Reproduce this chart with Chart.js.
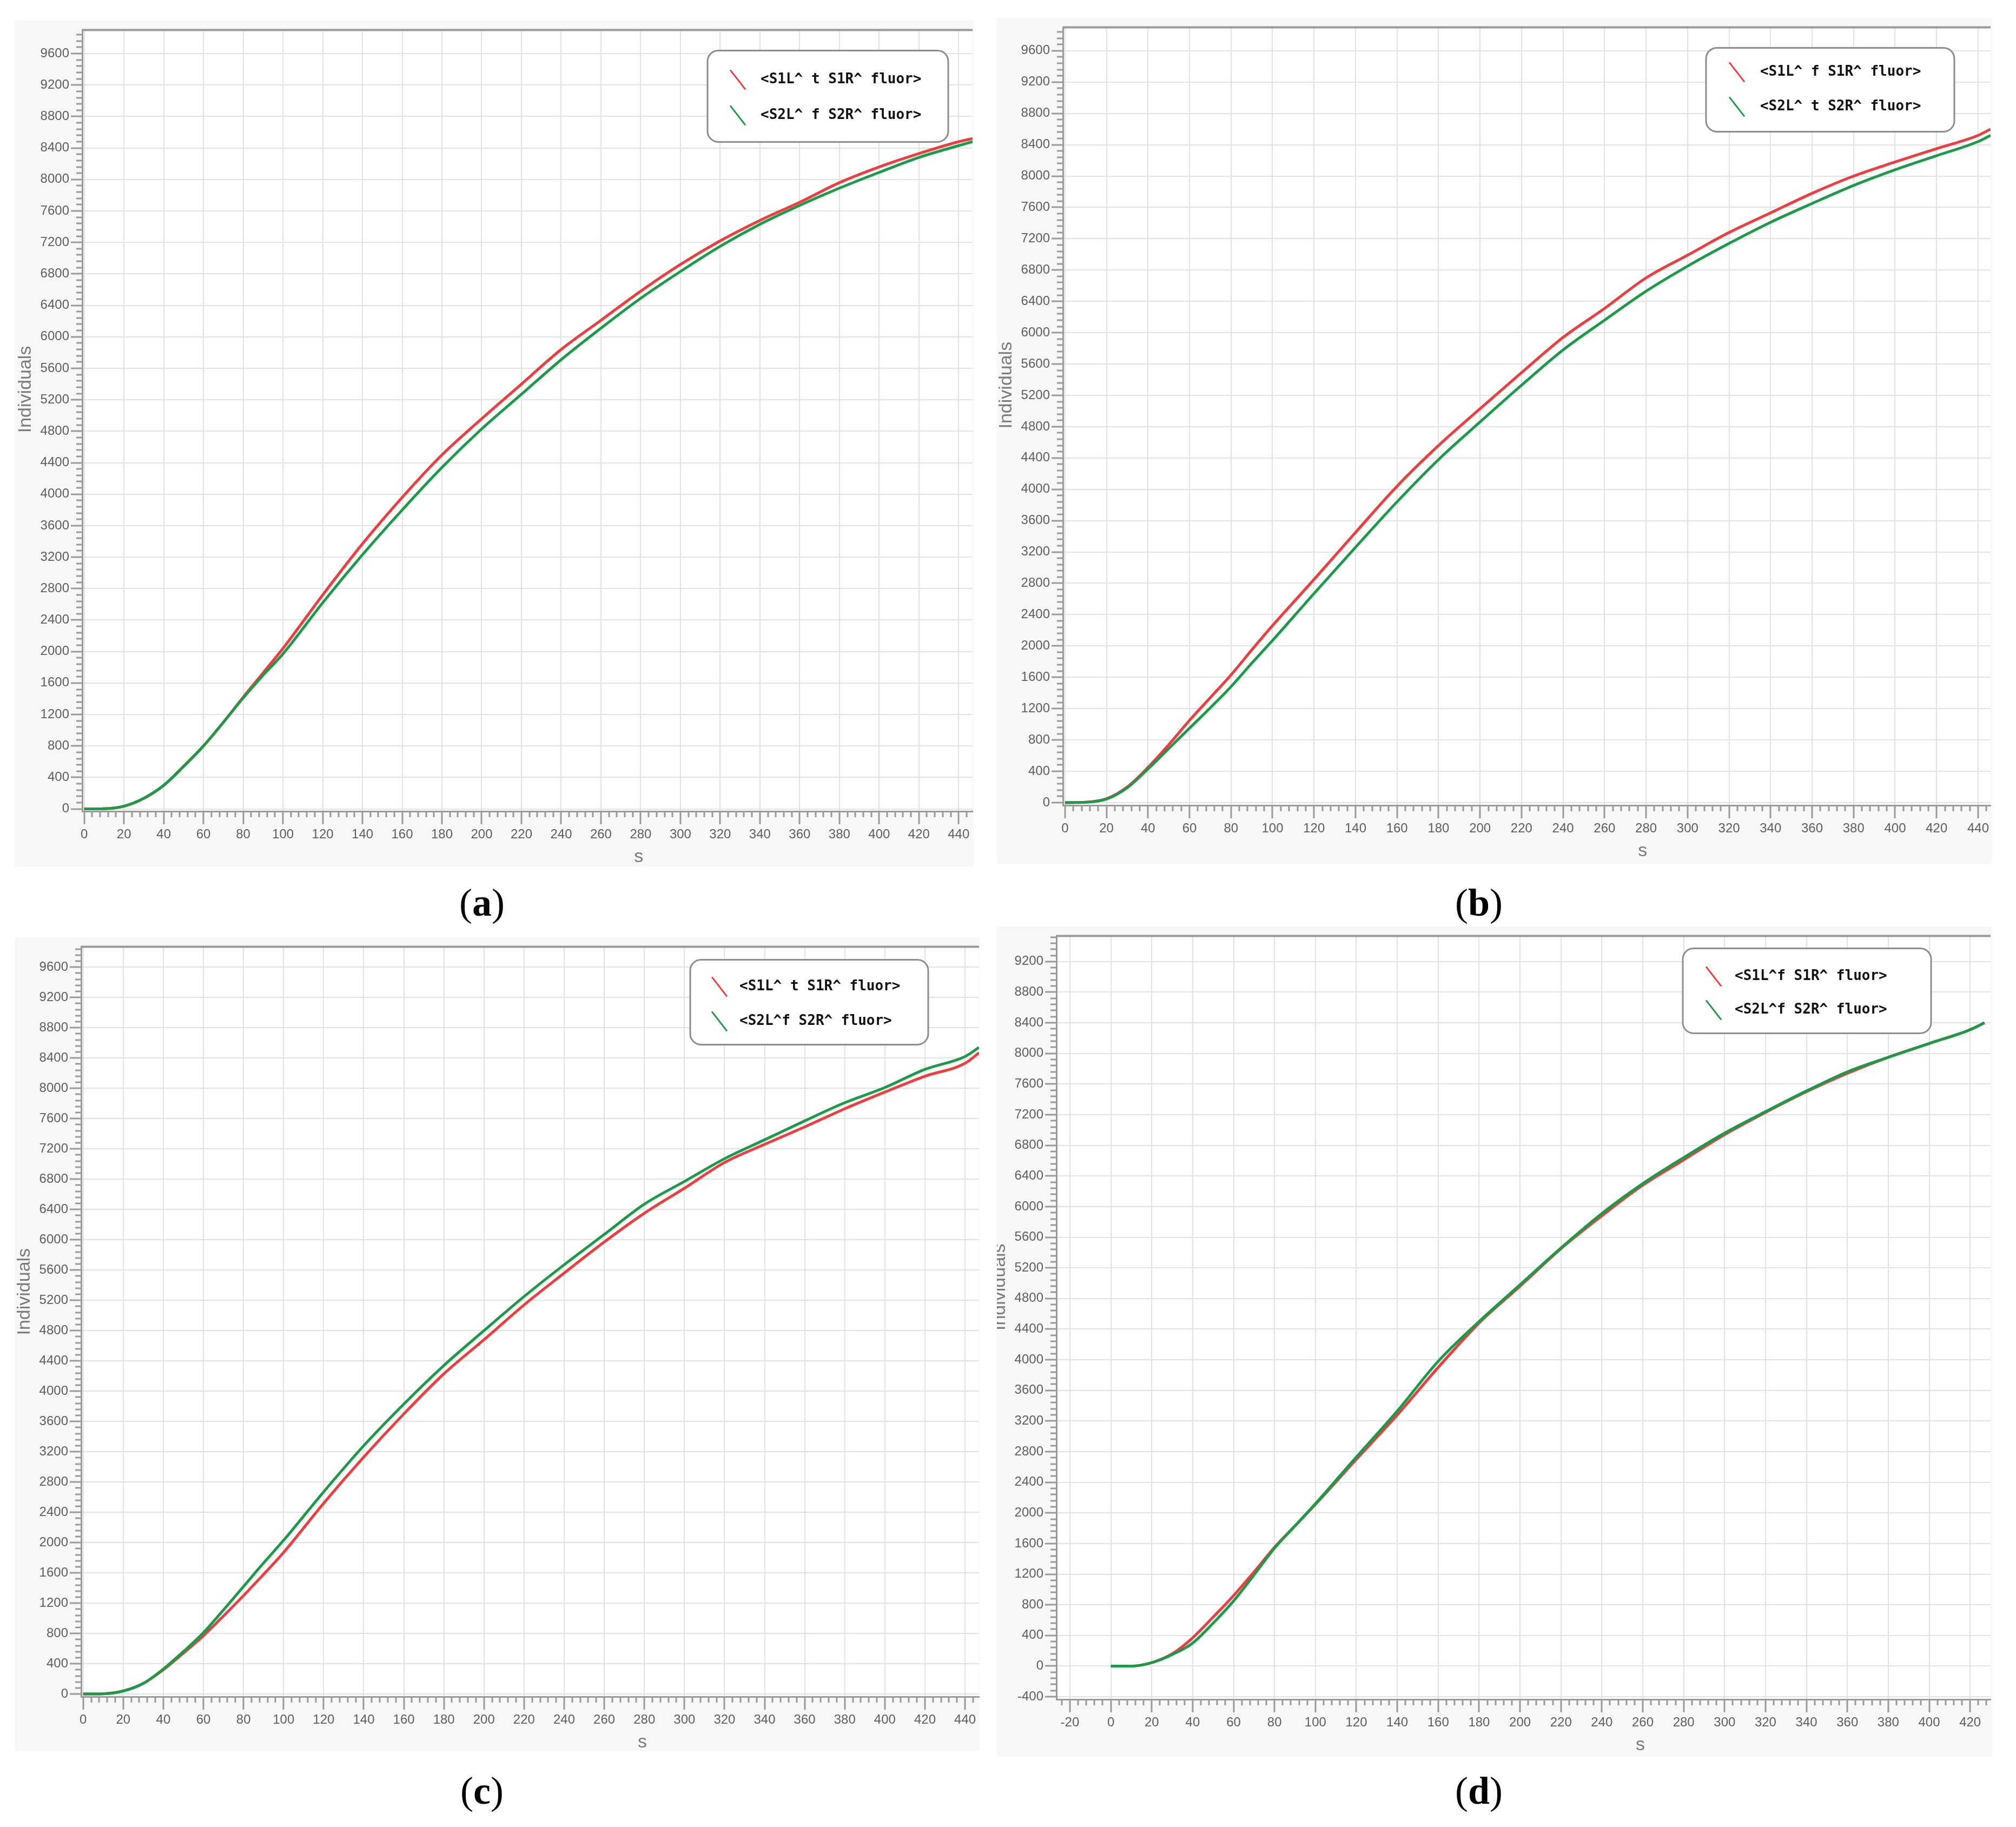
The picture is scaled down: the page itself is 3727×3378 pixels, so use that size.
<!DOCTYPE html>
<html>
<head>
<meta charset="utf-8">
<script src="https://cdn.jsdelivr.net/npm/chart.js@4.4.1/dist/chart.umd.min.js"></script>
<style>
  html, body { margin: 0; padding: 0; background: #fff; }
  body { width: 3727px; height: 3378px; position: relative; overflow: hidden; }
  canvas { position: absolute; }
  .caption {
    position: absolute;
    font-family: 'Liberation Serif', 'Times New Roman', serif;
    font-size: 72px;
    line-height: 72px;
    color: #000;
    transform: translate(-50%, -50%);
    white-space: nowrap;
  }
</style>
</head>
<body>
<div class="caption" style="left:891px;top:1669px">(<b>a</b>)</div>
<div class="caption" style="left:2734px;top:1669px">(<b>b</b>)</div>
<div class="caption" style="left:891px;top:3311px">(<b>c</b>)</div>
<div class="caption" style="left:2734px;top:3311px">(<b>d</b>)</div>

<script>
// time samples (s)
const timeAC = [0, 10, 20, 30, 40, 50, 60, 70, 80, 90, 100, 120, 140, 160, 180, 200, 220, 240, 260, 280, 300, 320, 340, 360, 380, 400, 420, 440, 447];
const timeB  = [0, 10, 20, 30, 40, 50, 60, 70, 80, 90, 100, 120, 140, 160, 180, 200, 220, 240, 260, 280, 300, 320, 340, 360, 380, 400, 420, 440, 446];
const timeD  = [0, 10, 20, 30, 40, 50, 60, 70, 80, 90, 100, 120, 140, 160, 180, 200, 220, 240, 260, 280, 300, 320, 340, 360, 380, 400, 420, 427];

// individuals, panel (a)
const redA   = [0, 3, 35, 135, 300, 540, 800, 1100, 1420, 1730, 2040, 2720, 3370, 3960, 4500, 4960, 5400, 5840, 6210, 6580, 6920, 7220, 7480, 7710, 7960, 8160, 8330, 8480, 8520];
const greenA = [0, 3, 35, 135, 300, 540, 800, 1100, 1410, 1700, 1970, 2620, 3230, 3800, 4340, 4830, 5270, 5710, 6110, 6490, 6830, 7150, 7430, 7670, 7890, 8090, 8280, 8430, 8480];
// panel (b)
const redB   = [0, 5, 50, 200, 450, 740, 1050, 1340, 1630, 1950, 2260, 2850, 3450, 4040, 4560, 5030, 5490, 5940, 6310, 6700, 6990, 7280, 7530, 7780, 8000, 8180, 8350, 8520, 8600];
const greenB = [0, 4, 45, 190, 430, 690, 950, 1210, 1480, 1780, 2070, 2670, 3260, 3840, 4380, 4860, 5330, 5780, 6160, 6530, 6850, 7140, 7410, 7650, 7880, 8080, 8260, 8440, 8520];
// panel (c)
const redC   = [0, 3, 40, 140, 320, 540, 770, 1030, 1300, 1580, 1870, 2520, 3130, 3700, 4230, 4680, 5140, 5560, 5970, 6350, 6680, 7020, 7260, 7490, 7730, 7950, 8160, 8330, 8470];
const greenC = [0, 3, 40, 140, 330, 560, 810, 1110, 1420, 1730, 2030, 2670, 3280, 3830, 4340, 4800, 5250, 5670, 6070, 6470, 6770, 7070, 7320, 7570, 7810, 8010, 8250, 8420, 8540];
// panel (d)
const redD   = [0, 0, 45, 160, 370, 640, 920, 1230, 1550, 1830, 2110, 2700, 3280, 3900, 4480, 4960, 5450, 5880, 6280, 6610, 6940, 7230, 7500, 7740, 7950, 8130, 8310, 8400];
const greenD = [0, 0, 45, 150, 300, 560, 850, 1190, 1540, 1830, 2120, 2730, 3330, 3980, 4500, 4980, 5460, 5910, 6300, 6640, 6960, 7240, 7510, 7760, 7950, 8130, 8310, 8400];

// labelled ticks
const yTicksABC = [0, 400, 800, 1200, 1600, 2000, 2400, 2800, 3200, 3600, 4000, 4400, 4800, 5200, 5600, 6000, 6400, 6800, 7200, 7600, 8000, 8400, 8800, 9200, 9600];
const yTicksD   = [-400, 0, 400, 800, 1200, 1600, 2000, 2400, 2800, 3200, 3600, 4000, 4400, 4800, 5200, 5600, 6000, 6400, 6800, 7200, 7600, 8000, 8400, 8800, 9200];
const xTicksABC = [0, 20, 40, 60, 80, 100, 120, 140, 160, 180, 200, 220, 240, 260, 280, 300, 320, 340, 360, 380, 400, 420, 440];
const xTicksD   = [-20, 0, 20, 40, 60, 80, 100, 120, 140, 160, 180, 200, 220, 240, 260, 280, 300, 320, 340, 360, 380, 400, 420];

const labelsA = ['<S1L^ t S1R^ fluor>', '<S2L^ f S2R^ fluor>'];
const labelsB = ['<S1L^ f S1R^ fluor>', '<S2L^ t S2R^ fluor>'];
const labelsC = ['<S1L^ t S1R^ fluor>', '<S2L^f S2R^ fluor>'];
const labelsD = ['<S1L^f S1R^ fluor>', '<S2L^f S2R^ fluor>'];

const RED = '#f03c3c';
const GREEN = '#1d9a48';
const AXIS = '#9a9a9a';
const GRID = '#e2e2e2';
const FRAME = '#f7f7f7';
const TICK_FONT = { family: "'Liberation Sans', Arial, sans-serif", size: 24 };

// fills the panel background and draws the top border
const panelFrame = {
    id: 'panelFrame',
    beforeDraw(chart) {
        const { ctx, chartArea: a, width, height } = chart;
        ctx.save();
        ctx.fillStyle = FRAME;
        ctx.fillRect(0, 0, width, height);
        ctx.fillStyle = '#fff';
        ctx.fillRect(a.left, a.top, a.right - a.left, a.bottom - a.top);
        ctx.restore();
    },
    afterDraw(chart) {
        const { ctx, chartArea: a } = chart;
        ctx.save();
        ctx.strokeStyle = AXIS;
        ctx.lineWidth = 4;
        ctx.beginPath();
        ctx.moveTo(a.left, a.top);
        ctx.lineTo(a.right, a.top);
        ctx.stroke();
        ctx.restore();
    },
};

// small ticks between the labelled ones
const minorTicks = {
    id: 'minorTicks',
    afterDraw(chart, args, o) {
        const { ctx, chartArea: a, scales: { x, y } } = chart;
        ctx.save();
        ctx.strokeStyle = AXIS;
        ctx.lineWidth = 3;
        ctx.beginPath();
        for (let k = Math.ceil(y.min / o.yStep); k * o.yStep <= y.max; k++) {
            const v = k * o.yStep;
            if (v % o.yMajor === 0) continue;
            const p = Math.round(y.getPixelForValue(v));
            ctx.moveTo(a.left, p);
            ctx.lineTo(a.left - o.len, p);
        }
        for (let k = Math.ceil(x.min / o.xStep); k * o.xStep <= x.max; k++) {
            const v = k * o.xStep;
            if (v % o.xMajor === 0) continue;
            const p = Math.round(x.getPixelForValue(v));
            ctx.moveTo(p, a.bottom);
            ctx.lineTo(p, a.bottom + o.len);
        }
        ctx.stroke();
        ctx.restore();
    },
};

const axisTitles = {
    id: 'axisTitles',
    afterDraw(chart, args, o) {
        const { ctx, chartArea: a } = chart;
        ctx.save();
        ctx.fillStyle = '#7a7a7a';
        ctx.font = "34px 'Liberation Sans', Arial, sans-serif";
        ctx.textAlign = 'center';
        ctx.textBaseline = 'middle';
        ctx.fillText('s', a.left + o.xPos * (a.right - a.left), a.bottom + o.xOffset);
        ctx.translate(a.left - o.yOffset, a.top + o.yPos * (a.bottom - a.top));
        ctx.rotate(-Math.PI / 2);
        ctx.fillText('Individuals', 0, 0);
        ctx.restore();
    },
};

// rounded legend box in the top right corner of the plot
const boxLegend = {
    id: 'boxLegend',
    afterDatasetsDraw(chart, args, o) {
        const { ctx, chartArea: a } = chart;
        const x0 = a.right - o.right - o.width;
        const y0 = a.top + o.top;
        ctx.save();
        ctx.beginPath();
        ctx.roundRect(x0, y0, o.width, o.height, 20);
        ctx.fillStyle = '#fff';
        ctx.fill();
        ctx.strokeStyle = '#8c8c8c';
        ctx.lineWidth = 3;
        ctx.stroke();
        ctx.font = "bold 26px 'DejaVu Sans Mono', 'Liberation Mono', monospace";
        ctx.textBaseline = 'middle';
        chart.data.datasets.forEach((ds, i) => {
            const cy = y0 + o.rowTop + i * o.rowGap;
            ctx.strokeStyle = ds.borderColor;
            ctx.lineWidth = 3;
            ctx.beginPath();
            ctx.moveTo(x0 + o.symX, cy - 18);
            ctx.lineTo(x0 + o.symX + 28, cy + 18);
            ctx.stroke();
            ctx.fillStyle = '#111';
            ctx.fillText(ds.label, x0 + o.textX, cy);
        });
        ctx.restore();
    },
};

const panels = [
    { frame: [27, 38, 1800, 1602], plot: [152, 45, 1798, 1500], x: [-1, 447], y: [-30, 9900],
      time: timeAC, red: redA, green: greenA, labels: labelsA, xTicks: xTicksABC, yTicks: yTicksABC,
      legend: { right: 45, top: 38, width: 445, height: 169, rowTop: 54, rowGap: 66, symX: 42, textX: 98 } },
    { frame: [1843, 33, 3682, 1598], plot: [1965, 40, 3680, 1489], x: [-1, 446], y: [-35, 9900],
      time: timeB, red: redB, green: greenB, labels: labelsB, xTicks: xTicksABC, yTicks: yTicksABC,
      legend: { right: 67, top: 38, width: 459, height: 155, rowTop: 45, rowGap: 64, symX: 43, textX: 100 } },
    { frame: [28, 1733, 1811, 3237], plot: [150, 1740, 1810, 3137], x: [-1, 447], y: [-35, 9870],
      time: timeAC, red: redC, green: greenC, labels: labelsC, xTicks: xTicksABC, yTicks: yTicksABC,
      legend: { right: 94, top: 24, width: 440, height: 157, rowTop: 50, rowGap: 64, symX: 40, textX: 91 } },
    { frame: [1843, 1713, 3682, 3248], plot: [1953, 1722, 3680, 3142], x: [-26.6, 430], y: [-435, 9535],
      time: timeD, red: redD, green: greenD, labels: labelsD, xTicks: xTicksD, yTicks: yTicksD,
      legend: { right: 110, top: 23, width: 459, height: 157, rowTop: 52, rowGap: 62, symX: 43, textX: 96 } },
];

const toPoints = (xs, ys) => xs.map((t, i) => ({ x: t, y: ys[i] }));

panels.forEach((p) => {
    const [fl, ft, fr, fb] = p.frame;
    const [pl, pt, pr, pb] = p.plot;
    const canvas = document.createElement('canvas');
    canvas.width = fr - fl;
    canvas.height = fb - ft;
    canvas.style.left = fl + 'px';
    canvas.style.top = ft + 'px';
    document.body.appendChild(canvas);

    new Chart(canvas.getContext('2d'), {
        type: 'line',
        data: {
            datasets: [
                { label: p.labels[0], data: toPoints(p.time, p.red), borderColor: RED, order: 1 },
                { label: p.labels[1], data: toPoints(p.time, p.green), borderColor: GREEN, order: 0 },
            ],
        },
        options: {
            responsive: false,
            animation: false,
            layout: { padding: { left: 0, top: pt - ft, right: fr - pr, bottom: 0 } },
            elements: {
                line: { borderWidth: 5, tension: 0.35, cubicInterpolationMode: 'monotone' },
                point: { radius: 0 },
            },
            plugins: {
                legend: { display: false },
                tooltip: { enabled: false },
                minorTicks: { yStep: 80, yMajor: 400, xStep: 4, xMajor: 20, len: 11 },
                axisTitles: { xPos: 0.625, xOffset: 85, yPos: 0.46, yOffset: 104 },
                boxLegend: p.legend,
            },
            scales: {
                x: {
                    type: 'linear',
                    min: p.x[0],
                    max: p.x[1],
                    afterBuildTicks: (scale) => { scale.ticks = p.xTicks.map((v) => ({ value: v })); },
                    afterFit: (scale) => { scale.height = fb - pb; },
                    border: { color: AXIS, width: 3 },
                    grid: { color: GRID, lineWidth: 2, tickColor: AXIS, tickWidth: 3, tickLength: 24 },
                    ticks: {
                        autoSkip: false, maxRotation: 0,
                        padding: 5, color: '#5e5e5e', font: TICK_FONT,
                        callback: (v) => String(v),
                    },
                },
                y: {
                    type: 'linear',
                    min: p.y[0],
                    max: p.y[1],
                    afterBuildTicks: (scale) => { scale.ticks = p.yTicks.map((v) => ({ value: v })); },
                    afterFit: (scale) => { scale.width = pl - fl; },
                    border: { color: AXIS, width: 3 },
                    grid: { color: GRID, lineWidth: 2, tickColor: AXIS, tickWidth: 3, tickLength: 21 },
                    ticks: {
                        autoSkip: false,
                        padding: 3, color: '#5e5e5e', font: TICK_FONT,
                        callback: (v) => String(v),
                    },
                },
            },
        },
        plugins: [panelFrame, minorTicks, axisTitles, boxLegend],
    });
});
</script>
</body>
</html>
